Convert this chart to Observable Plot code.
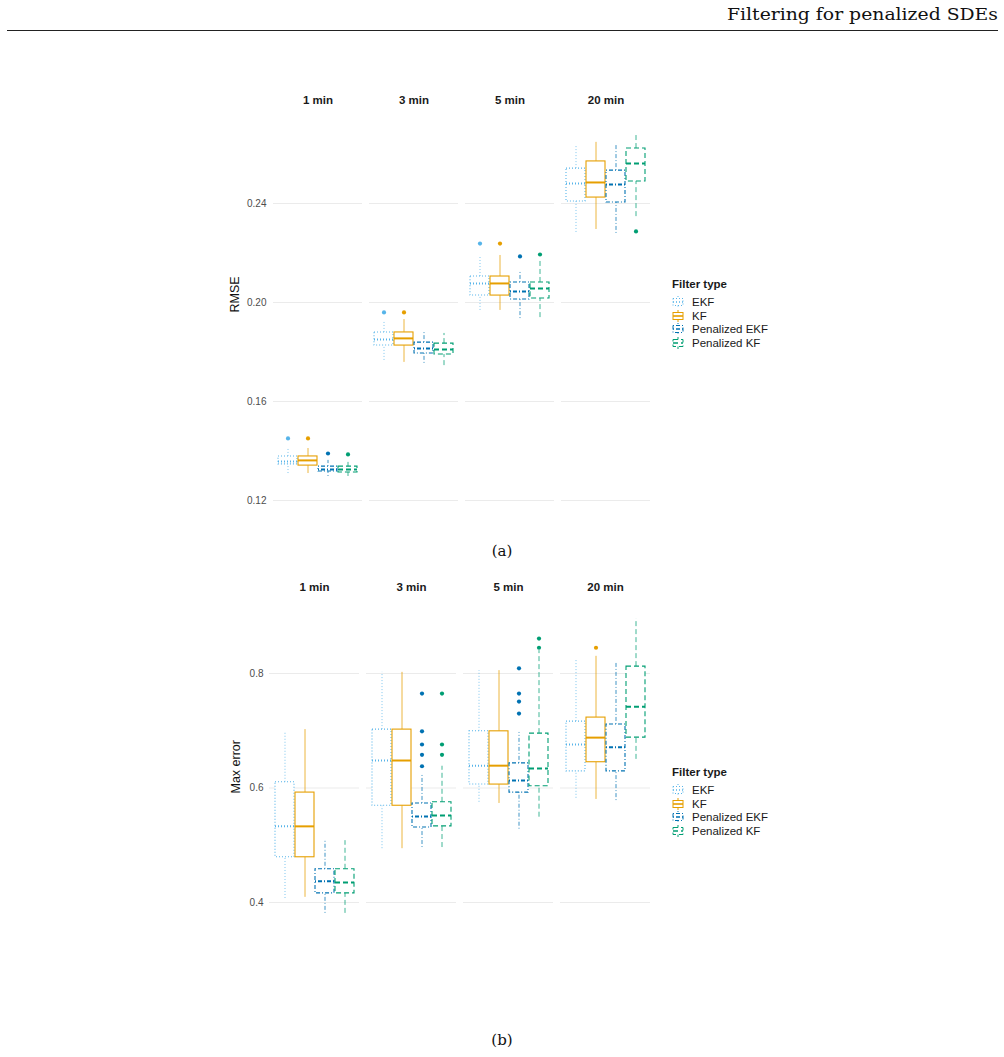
<!DOCTYPE html>
<html>
<head>
<meta charset="utf-8">
<script src="https://cdn.jsdelivr.net/npm/d3@7"></script>
<script src="https://cdn.jsdelivr.net/npm/@observablehq/plot@0.6"></script>
<style>
  body { margin: 0; background: #fff; }
  #page { position: relative; width: 1004px; height: 1057px; overflow: hidden; background: #fff;
          font-family: "Liberation Sans", Arial, sans-serif; }
  .abs { position: absolute; }
  #rule { left: 7px; width: 991px; top: 30px; height: 1px; background: #222; }
  .caption { font-family: "DejaVu Serif", serif; font-size: 15px; width: 60px; text-align: center; left: 472px; color: #111; }
  .legend { left: 672px; color: #1a1a1a; font-size: 11.5px; }
  .legend .title { font-weight: bold; height: 19px; line-height: 14px; }
  .legend .item { height: 13.7px; line-height: 13.7px; white-space: nowrap; }
  .legend svg { vertical-align: -2px; margin-right: 8px; }
</style>
</head>
<body>
<div id="page">
  <svg class="abs" style="left:0;top:0" width="1004" height="30">
    <text x="998" y="20" text-anchor="end" font-family="DejaVu Serif, serif" font-size="16" fill="#111"
          textLength="271" lengthAdjust="spacingAndGlyphs">Filtering for penalized SDEs</text>
  </svg>
  <div id="rule" class="abs"></div>
  <div class="abs caption" style="top:542px">(a)</div>
  <div class="abs caption" style="top:1031px">(b)</div>
</div>
<script>
// Panels (facets) and filter types
const intervals = ["1 min", "3 min", "5 min", "20 min"];
const filterTypes = ["EKF", "KF", "Penalized EKF", "Penalized KF"];
const typeColors = ["#56B4E9", "#E69F00", "#0072B2", "#009E73"];
const typeDashes = ["1,2", undefined, "1,2,4,2", "5,3"];

// RMSE box statistics; each array runs interval by interval, filter types in order
const rmseLower  = [0.1309, 0.1309, 0.1297, 0.1297,  0.1766, 0.1758, 0.1754, 0.1745,  0.1968, 0.1968, 0.1935, 0.1939,  0.2283, 0.2295, 0.2279, 0.2347];
const rmseQ1     = [0.1346, 0.1341, 0.1317, 0.1313,  0.1826, 0.1826, 0.1794, 0.1790,  0.2028, 0.2028, 0.2012, 0.2016,  0.2408, 0.2424, 0.2404, 0.2489];
const rmseMedian = [0.1358, 0.1362, 0.1325, 0.1325,  0.1851, 0.1855, 0.1814, 0.1810,  0.2077, 0.2077, 0.2044, 0.2057,  0.2481, 0.2485, 0.2477, 0.2562];
const rmseQ3     = [0.1378, 0.1378, 0.1337, 0.1337,  0.1879, 0.1879, 0.1838, 0.1834,  0.2105, 0.2105, 0.2081, 0.2081,  0.2541, 0.2570, 0.2533, 0.2622];
const rmseUpper  = [0.1410, 0.1410, 0.1362, 0.1354,  0.1927, 0.1931, 0.1879, 0.1875,  0.2190, 0.2190, 0.2129, 0.2166,  0.2638, 0.2647, 0.2638, 0.2679];
const rmseOutliers = [
  ["1 min", "EKF", 0.1451], ["1 min", "KF", 0.1451], ["1 min", "Penalized EKF", 0.1390], ["1 min", "Penalized KF", 0.1386],
  ["3 min", "EKF", 0.1960], ["3 min", "KF", 0.1960],
  ["5 min", "EKF", 0.2238], ["5 min", "KF", 0.2238], ["5 min", "Penalized EKF", 0.2186], ["5 min", "Penalized KF", 0.2194],
  ["20 min", "Penalized KF", 0.2287]
];
const rmseTicks = [0.12, 0.16, 0.20, 0.24];

// Max error box statistics, same ordering
const maxLower  = [0.407, 0.409, 0.381, 0.381,  0.494, 0.494, 0.496, 0.496,  0.575, 0.573, 0.528, 0.549,  0.582, 0.580, 0.578, 0.650];
const maxQ1     = [0.479, 0.479, 0.416, 0.416,  0.569, 0.569, 0.531, 0.533,  0.606, 0.606, 0.592, 0.603,  0.629, 0.645, 0.629, 0.688];
const maxMedian = [0.533, 0.533, 0.437, 0.435,  0.648, 0.648, 0.550, 0.552,  0.639, 0.639, 0.613, 0.634,  0.676, 0.688, 0.671, 0.742];
const maxQ3     = [0.610, 0.592, 0.458, 0.458,  0.702, 0.702, 0.573, 0.575,  0.699, 0.699, 0.643, 0.695,  0.716, 0.723, 0.711, 0.812];
const maxUpper  = [0.699, 0.702, 0.507, 0.508,  0.802, 0.802, 0.624, 0.638,  0.805, 0.805, 0.697, 0.840,  0.823, 0.830, 0.819, 0.896];
const maxOutliers = [
  ["3 min", "Penalized EKF", 0.638], ["3 min", "Penalized EKF", 0.658], ["3 min", "Penalized EKF", 0.676],
  ["3 min", "Penalized EKF", 0.699], ["3 min", "Penalized EKF", 0.765],
  ["3 min", "Penalized KF", 0.658], ["3 min", "Penalized KF", 0.676], ["3 min", "Penalized KF", 0.765],
  ["5 min", "Penalized EKF", 0.730], ["5 min", "Penalized EKF", 0.751], ["5 min", "Penalized EKF", 0.765], ["5 min", "Penalized EKF", 0.809],
  ["5 min", "Penalized KF", 0.845], ["5 min", "Penalized KF", 0.861],
  ["20 min", "KF", 0.845]
];
const maxTicks = [0.4, 0.6, 0.8];

const page = document.getElementById("page");

function boxPanel({lower, q1, median, q3, upper, outliers, yDomain, yTicks, yFormat, yLabel,
                   top, height, marginTop, marginLeft, tickPadding, labelDx}) {
  const stats = intervals.flatMap((interval, i) => filterTypes.map((type, j) => {
    const k = i * filterTypes.length + j;
    return {interval, type, lower: lower[k], q1: q1[k], median: median[k], q3: q3[k], upper: upper[k]};
  }));
  const points = outliers.map(([interval, type, value]) => ({interval, type, value}));

  const marks = [
    Plot.gridY(yTicks, {stroke: "#ebebeb", strokeOpacity: 1, strokeWidth: 1.1}),
    Plot.axisY(yTicks, {tickSize: 0, tickPadding, tickFormat: d3.format(yFormat), fontSize: 10,
                        color: "#4d4d4d", label: null}),
    Plot.axisFx({anchor: "top", tickSize: 0, tickPadding: 13, fontSize: 11.5, fontWeight: "bold",
                 color: "#1a1a1a", label: null}),
    Plot.text([yLabel], {fx: [intervals[0]], text: d => d, frameAnchor: "left", rotate: -90,
                         dx: labelDx, fontSize: 12.5, fill: "#111"})
  ];

  filterTypes.forEach((type, j) => {
    const d = stats.filter(s => s.type === type);
    const line = {fx: "interval", x: "type", stroke: typeColors[j], strokeDasharray: typeDashes[j]};
    marks.push(
      Plot.ruleX(d, {...line, y1: "lower", y2: "q1", strokeWidth: 1, strokeOpacity: 0.75}),
      Plot.ruleX(d, {...line, y1: "q3", y2: "upper", strokeWidth: 1, strokeOpacity: 0.75}),
      Plot.barY(d, {...line, y1: "q1", y2: "q3", fill: "white", strokeWidth: 1.1}),
      Plot.tickY(d, {...line, y: "median", strokeWidth: 2}),
      Plot.dot(points.filter(p => p.type === type),
               {fx: "interval", x: "type", y: "value", fill: typeColors[j], stroke: "none", r: 2.1})
    );
  });

  const svg = Plot.plot({
    width: 1004,
    height,
    marginTop,
    marginBottom: 10,
    marginLeft,
    marginRight: 353,
    style: {fontFamily: "Liberation Sans, Arial, sans-serif", background: "transparent"},
    fx: {domain: intervals, paddingInner: 0.075, paddingOuter: 0, label: null},
    x: {domain: filterTypes, paddingInner: 0.05, paddingOuter: 0.19, axis: null},
    y: {domain: yDomain},
    marks
  });
  svg.style.position = "absolute";
  svg.style.left = "0px";
  svg.style.top = top + "px";
  page.appendChild(svg);
}

function legend(top) {
  const div = document.createElement("div");
  div.className = "abs legend";
  div.style.top = top + "px";
  const title = document.createElement("div");
  title.className = "title";
  title.textContent = "Filter type";
  div.appendChild(title);
  filterTypes.forEach((type, j) => {
    const item = document.createElement("div");
    item.className = "item";
    const c = typeColors[j], dash = typeDashes[j] ? `stroke-dasharray="${typeDashes[j]}"` : "";
    item.innerHTML =
      `<svg width="12" height="12" fill="none" stroke="${c}" stroke-width="1" ${dash}>` +
      `<line x1="6" x2="6" y1="0" y2="2.5"/><line x1="6" x2="6" y1="9.5" y2="12"/>` +
      `<rect x="1" y="2.5" width="10" height="7"/><line x1="1" x2="11" y1="6" y2="6" stroke-width="1.6"/></svg>`;
    item.appendChild(document.createTextNode(type));
    div.appendChild(item);
  });
  page.appendChild(div);
}

// (a) RMSE
boxPanel({
  lower: rmseLower, q1: rmseQ1, median: rmseMedian, q3: rmseQ3, upper: rmseUpper, outliers: rmseOutliers,
  yDomain: [0.116768, 0.275152], yTicks: rmseTicks, yFormat: ".2f", yLabel: "RMSE",
  top: 80, height: 438, marginTop: 36, marginLeft: 272, tickPadding: 7, labelDx: -39
});
legend(277);

// (b) Max error
boxPanel({
  lower: maxLower, q1: maxQ1, median: maxMedian, q3: maxQ3, upper: maxUpper, outliers: maxOutliers,
  yDomain: [0.258515, 0.922271], yTicks: maxTicks, yFormat: ".1f", yLabel: "Max error",
  top: 560, height: 433, marginTop: 43, marginLeft: 267, tickPadding: 6, labelDx: -34
});
legend(765);
</script>
</body>
</html>
